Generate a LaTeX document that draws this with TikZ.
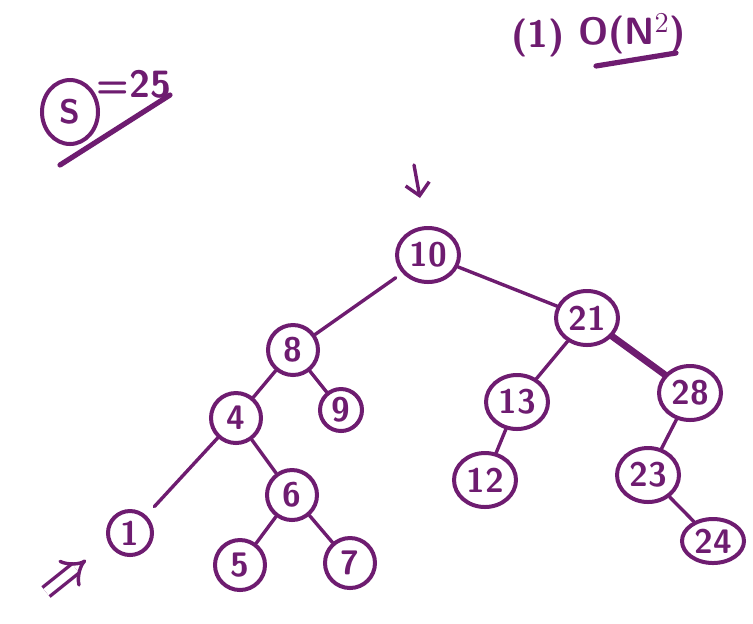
\documentclass[tikz,border=0pt]{standalone}
\usetikzlibrary{arrows.meta,shapes.geometric}
\definecolor{ink}{RGB}{110,28,112}
\tikzset{
  vtx/.style={draw=ink,circle,line width=2pt,inner sep=0pt,minimum size=25pt,
    text=ink,font=\sffamily\bfseries\fontsize{17}{18}\selectfont},
  wide/.style={vtx,ellipse,minimum width=31pt,minimum height=27pt},
  edge/.style={draw=ink,line width=1.7pt,line cap=round},
  note/.style={text=ink,font=\sffamily\bfseries\fontsize{19}{20}\selectfont,inner sep=0pt}
}
\begin{document}
\begin{tikzpicture}[x=0.5pt,y=-0.5pt]
	\useasboundingbox (0,0) rectangle (753,623);
	\node[wide] (n10) at (428,255) {10};
	\node[vtx] (n8) at (293,350) {8};
	\node[vtx,minimum size=21pt] (n9) at (341,410) {9};
	\node[vtx] (n4) at (236,418) {4};
	\node[vtx,minimum size=22pt] (n1) at (130,533) {1};
	\node[vtx] (n6) at (292,495) {6};
	\node[vtx] (n5) at (240,565) {5};
	\node[vtx] (n7) at (350,563) {7};
	\node[wide] (n21) at (587,318) {21};
	\node[wide] (n13) at (517,402) {13};
	\node[wide] (n28) at (690,393) {28};
	\node[wide] (n12) at (485,480) {12};
	\node[wide] (n23) at (648,475) {23};
	\node[wide,minimum height=22pt] (n24) at (713,541) {24};
	\draw[edge,shorten <=4pt] (n10) -- (n8);
	\draw[edge] (n10) -- (n21);
	\draw[edge] (n8) -- (n4);
	\draw[edge] (n8) -- (n9);
	\draw[edge,shorten >=6pt] (n4) -- (n1);
	\draw[edge] (n4) -- (n6);
	\draw[edge] (n6) -- (n5);
	\draw[edge] (n6) -- (n7);
	\draw[edge] (n21) -- (n13);
	\draw[edge,line width=3.4pt] (n21) -- (n28);
	\draw[edge] (n13) -- (n12);
	\draw[edge] (n28) -- (n23);
	\draw[edge] (n23) -- (n24);
	\coordinate (arrA) at (414,165);
	\coordinate (arrB) at (420,198);
	\draw[edge,-{Straight Barb[length=6pt,width=12pt]}] (arrA) -- (arrB);
	\coordinate (dblA) at (46,592);
	\coordinate (dblB) at (86,560);
	\draw[draw=ink,line width=1.7pt,double distance=4pt,-{Implies[length=10pt,width=18pt]}] (dblA) -- (dblB);
	\node[vtx,ellipse,minimum width=28pt,minimum height=32pt] (s) at (70,112) {S};
	\node[note] (eq) at (134,84) {=25};
	\coordinate (ulA) at (60,165);
	\coordinate (ulB) at (170,95);
	\draw[edge,line width=2.6pt] (ulA) -- (ulB);
	\node[note] (one) at (538,38) {(1)};
	\node[note] (ord) at (632,34) {O(N$^2$)};
	\coordinate (ucA) at (596,66);
	\coordinate (ucB) at (676,53);
	\draw[edge,line width=2.6pt] (ucA) -- (ucB);
\end{tikzpicture}
\end{document}
